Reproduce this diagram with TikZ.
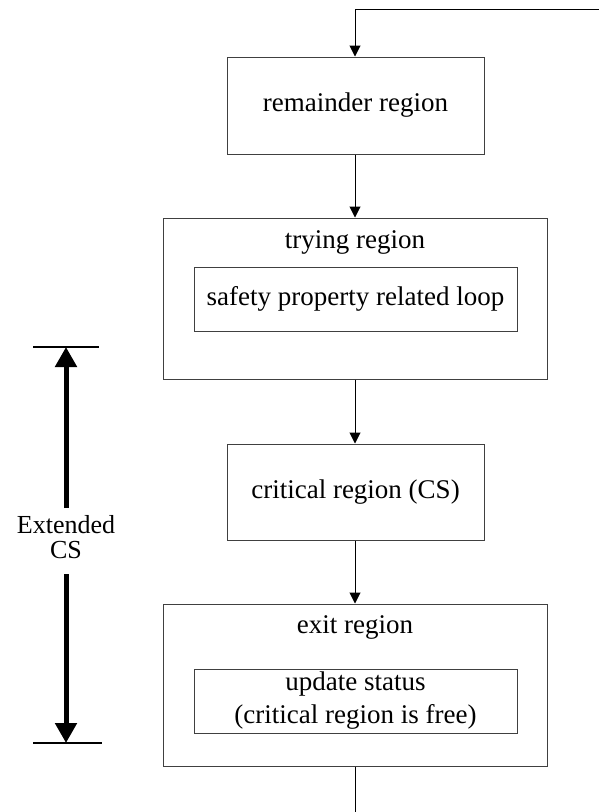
\documentclass[tikz,border=0pt]{standalone}
\usepackage{fontspec}
\setmainfont{Liberation Serif}
\usetikzlibrary{arrows.meta}
\begin{document}
\begin{tikzpicture}[x=1pt,y=-1pt,
  box/.style={draw=black!75,line width=1pt,inner sep=0pt,font=\fontsize{27}{33}\selectfont,align=center},
  lbl/.style={inner sep=0pt,anchor=base,font=\fontsize{27}{33}\selectfont},
  flow/.style={draw=black,line width=1pt,-{Triangle[width=11pt,length=11pt]}},
  plain/.style={draw=black,line width=1pt},
  bigarrow/.style={draw=black,line width=5pt,-{Triangle[width=21pt,length=20pt]}},
  bar/.style={draw=black,line width=2.5pt}]
\useasboundingbox (0,0) rectangle (599,812);
% boxes
\node[box,minimum width=257pt,minimum height=97pt] (rem) at (355.5,105.5) {remainder region};
\node[box,minimum width=384pt,minimum height=161pt] (try) at (355,298.5) {};
\node[lbl] (trylbl) at (355,248) {trying region};
\node[box,minimum width=323pt,minimum height=64pt] (safe) at (355.5,299) {safety property related loop};
\node[box,minimum width=257pt,minimum height=96pt] (crit) at (355.5,492) {critical region (CS)};
\node[box,minimum width=384pt,minimum height=162pt] (exit) at (355,685) {};
\node[lbl] (exitlbl) at (355,633) {exit region};
\node[box,minimum width=323pt,minimum height=64pt] (upd) at (355.5,701) {update status\\(critical region is free)};
% loop connectors
\coordinate (topr) at (599,9);
\coordinate (topl) at (355,9);
\coordinate (bot) at (355,812);
\draw[plain] (topr) -- (topl);
\draw[flow] (topl) -- (topl |- rem.north);
\draw[flow] (rem.south -| topl) -- (try.north -| topl);
\draw[flow] (try.south -| topl) -- (crit.north -| topl);
\draw[flow] (crit.south -| topl) -- (exit.north -| topl);
\draw[plain] (exit.south -| topl) -- (bot);
% extended CS
\coordinate (b1l) at (33,347);
\coordinate (b1r) at (99,347);
\coordinate (b2l) at (33,743);
\coordinate (b2r) at (102,743);
\coordinate (tipU) at (66,347);
\coordinate (tipD) at (66,743);
\node[inner sep=0pt,align=center,font=\fontsize{26}{25.5}\selectfont] (ext) at (66,537) {Extended\\CS};
\coordinate (startU) at (66,508);
\coordinate (startD) at (66,574);
\draw[bar] (b1l) -- (b1r);
\draw[bar] (b2l) -- (b2r);
\draw[bigarrow] (startU) -- (tipU);
\draw[bigarrow] (startD) -- (tipD);
\end{tikzpicture}
\end{document}
